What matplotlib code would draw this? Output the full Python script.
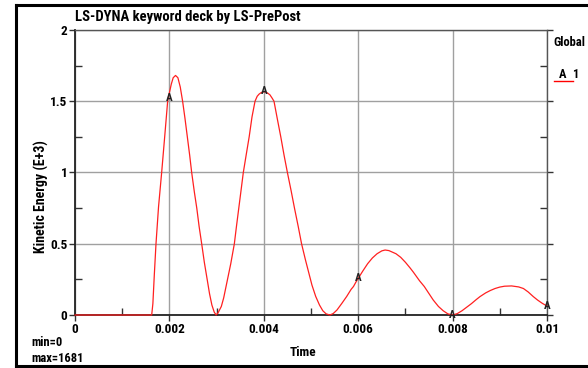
import matplotlib
matplotlib.use("Agg")
import matplotlib.pyplot as plt
from matplotlib.lines import Line2D
from matplotlib.ticker import MultipleLocator

# Data (Time, Kinetic Energy in E+3)
time = [0.0, 0.0016, 0.001625, 0.00165, 0.00168, 0.001716, 0.00177, 0.001836, 0.0019,
        0.001963, 0.002, 0.00204, 0.00208, 0.00213, 0.00218, 0.00223, 0.00228, 0.00233,
        0.00238, 0.00243, 0.002472, 0.00253, 0.00258, 0.00263, 0.002684, 0.00274, 0.0028,
        0.00285, 0.0029, 0.00295, 0.00299,
        0.00303, 0.0031, 0.00315, 0.0032, 0.00325, 0.0033, 0.003376, 0.00342, 0.00347,
        0.00352, 0.003566, 0.00363, 0.00369, 0.00375, 0.003814, 0.00386, 0.0039, 0.00395,
        0.00401, 0.00407, 0.00413, 0.00418, 0.004216, 0.00429, 0.00436, 0.00443, 0.0045,
        0.00458, 0.00465, 0.00473, 0.0048, 0.00488, 0.00495, 0.00502, 0.0051, 0.00518,
        0.00525, 0.00532, 0.0054,
        0.00547, 0.00555, 0.00565, 0.005756, 0.00585, 0.0059, 0.00595, 0.006, 0.0061,
        0.0062, 0.0063, 0.0064, 0.0065, 0.00657, 0.00665, 0.0068, 0.0069, 0.007, 0.0071,
        0.00717, 0.0073, 0.0074, 0.0075, 0.00759, 0.0077, 0.0078, 0.0079, 0.008,
        0.0081, 0.0082, 0.0083, 0.0084, 0.0085, 0.00858, 0.0087, 0.0088, 0.0089, 0.009,
        0.0091, 0.00925, 0.0094, 0.0095, 0.0096, 0.00971, 0.0098, 0.0099, 0.01]
energy = [0.0, 0.0, 0.0, 0.08, 0.28, 0.5, 0.76, 1.0, 1.25,
          1.5, 1.56, 1.62, 1.665, 1.681, 1.665, 1.6, 1.5, 1.38,
          1.25, 1.12, 1.0, 0.86, 0.75, 0.62, 0.5, 0.37, 0.25,
          0.15, 0.07, 0.02, 0.0,
          0.015, 0.06, 0.12, 0.2, 0.28, 0.36, 0.5, 0.62, 0.75,
          0.88, 1.0, 1.13, 1.25, 1.39, 1.5, 1.535, 1.55, 1.562,
          1.567, 1.56, 1.545, 1.52, 1.5, 1.37, 1.25, 1.12, 1.0,
          0.87, 0.75, 0.62, 0.5, 0.39, 0.3, 0.21, 0.13, 0.07,
          0.03, 0.008, 0.0,
          0.01, 0.035, 0.08, 0.13, 0.18, 0.2, 0.23, 0.257, 0.31,
          0.36, 0.40, 0.43, 0.45, 0.456, 0.452, 0.43, 0.405, 0.37, 0.33,
          0.30, 0.24, 0.2, 0.15, 0.105, 0.06, 0.03, 0.008, 0.0,
          0.01, 0.03, 0.055, 0.08, 0.108, 0.129, 0.155, 0.172, 0.186, 0.196,
          0.202, 0.204, 0.197, 0.186, 0.162, 0.129, 0.105, 0.082, 0.063]
marker_times = [0.002, 0.004, 0.006, 0.008, 0.01]
marker_values = [1.52, 1.57, 0.257, 0.0, 0.063]
xticks = [0, 0.002, 0.004, 0.006, 0.008, 0.01]
xticklabels = ["0", "0.002", "0.004", "0.006", "0.008", "0.01"]
yticks = [0, 0.5, 1, 1.5, 2]
yticklabels = ["0", "0.5", "1", "1.5", "2"]

FONT = ["Roboto Condensed", "PT Sans Narrow", "DejaVu Sans"]
plt.rcParams["font.family"] = FONT

W, H = 588, 368
fig = plt.figure(figsize=(W / 100, H / 100), dpi=100)
ax = fig.add_axes([75 / W, 1 - 315 / H, (547 - 75) / W, (315 - 30) / H])

ax.plot(time, energy, color="#ff2020", lw=0.9, clip_on=False, zorder=5)
for t, v in zip(marker_times, marker_values):
    ax.text(t, v, "A", ha="center", va="center", fontsize=8, fontweight="bold",
            color="#222222", zorder=6)

ax.set_xlim(0, 0.01)
ax.set_ylim(0, 2)
ax.set_xticks(xticks)
ax.set_xticklabels(xticklabels)
ax.set_yticks(yticks)
ax.set_yticklabels(yticklabels)
ax.xaxis.set_minor_locator(MultipleLocator(0.001))
ax.yaxis.set_minor_locator(MultipleLocator(0.25))
ax.grid(True, which="major", color="#a0a0a0", lw=1.0)
ax.tick_params(axis="both", which="major", direction="out", length=4, width=1,
               labelsize=9.5, pad=1.5, color="#333333")
ax.tick_params(axis="both", which="minor", direction="in", length=5, width=1,
               color="#333333")
ax.tick_params(axis="y", which="both", right=True)
for lab in ax.get_xticklabels() + ax.get_yticklabels():
    lab.set_fontweight("bold")
for s in ["left", "bottom"]:
    ax.spines[s].set_color("#222222")
    ax.spines[s].set_linewidth(1.3)
for s in ["top", "right"]:
    ax.spines[s].set_color("#555555")
    ax.spines[s].set_linewidth(1.0)

# Texts
fig.text(75 / W, 1 - 17 / H, "LS-DYNA keyword deck by LS-PrePost", ha="left", va="center",
         fontsize=10.5, fontweight="bold")
fig.text(553 / W, 1 - 42 / H, "Global", ha="left", va="center", fontsize=9, fontweight="bold")
fig.text(559 / W, 1 - 75 / H, "A", ha="left", va="center", fontsize=9, fontweight="bold")
fig.text(572 / W, 1 - 75 / H, "1", ha="left", va="center", fontsize=9, fontweight="bold")
fig.add_artist(Line2D([554 / W, 573 / W], [1 - 81 / H, 1 - 81 / H], color="red", lw=1,
                      transform=fig.transFigure))
fig.text(41 / W, 1 - 197 / H, "Kinetic Energy (E+3)", ha="center", va="center",
         rotation=90, fontsize=10, fontweight="bold")
fig.text(303 / W, 1 - 353 / H, "Time", ha="center", va="center", fontsize=9.5, fontweight="bold")
fig.text(31 / W, 1 - 342 / H, "min=0", ha="left", va="center", fontsize=9, fontweight="bold")
fig.text(31 / W, 1 - 358 / H, "max=1681", ha="left", va="center", fontsize=9, fontweight="bold")

# Outer frame
for xs, ys in [([16, 16], [5, 366]), ([16, 600], [5, 5]), ([16, 600], [366, 366])]:
    fig.add_artist(Line2D([x / W for x in xs], [1 - y / H for y in ys], color="black",
                          lw=2.2, transform=fig.transFigure))

fig.savefig("out.png", dpi=100)
